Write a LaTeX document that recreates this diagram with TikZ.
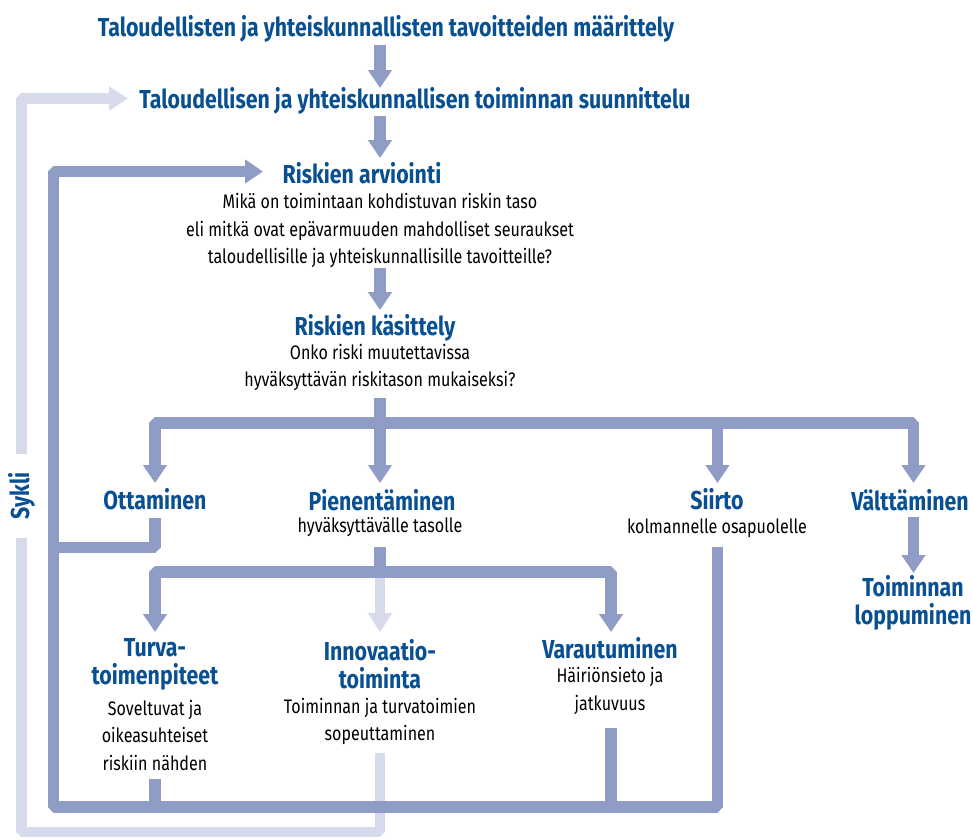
\documentclass[tikz,border=0pt]{standalone}
\usepackage{fontspec}
\setmainfont{Fira Sans}[FakeStretch=0.82]
\usetikzlibrary{arrows.meta}
\definecolor{headblue}{RGB}{8,80,146}
\definecolor{flowc}{RGB}{143,156,198}
\definecolor{cyclec}{RGB}{214,218,234}
\tikzset{
  flowline/.style={draw=flowc, line width=11.5pt, line join=bevel},
  loopline/.style={draw=cyclec, line width=10.5pt, line join=bevel},
  headed/.style={-{Triangle[width=23pt,length=18pt]}},
  twoheaded/.style={{Triangle[width=23pt,length=18pt]}-{Triangle[width=23pt,length=18pt]}},
  lighthead/.style={-{Triangle[width=23pt,length=19pt]}},
  headtxt/.style={text=headblue, font=\fontsize{26}{28}\selectfont\bfseries, align=center, inner sep=0pt},
  bodytxt/.style={text=black, font=\fontsize{19.6}{27.5}\selectfont, align=center, inner sep=0pt},
}
\begin{document}
\begin{tikzpicture}[x=1pt,y=-1pt]
\useasboundingbox (0,0) rectangle (973,839);

% labels
\node[headtxt] (goals) at (386,29) {Taloudellisten ja yhteiskunnallisten tavoitteiden määrittely};
\node[headtxt] (plan) at (415,101) {Taloudellisen ja yhteiskunnallisen toiminnan suunnittelu};
\node[headtxt] (assess) at (362,173) {Riskien arviointi};
\node[bodytxt] (assessq) at (380,230.5) {Mikä on toimintaan kohdistuvan riskin taso\\eli mitkä ovat epävarmuuden mahdolliset seuraukset\\taloudellisille ja yhteiskunnallisille tavoitteille?};
\node[headtxt] (treat) at (375,328) {Riskien käsittely};
\node[bodytxt] (treatq) at (380,367.5) {Onko riski muutettavissa\\hyväksyttävän riskitason mukaiseksi?};
\node[headtxt] (accept) at (155,499) {Ottaminen};
\node[headtxt] (reduce) at (382,500) {Pienentäminen};
\node[bodytxt] (reduceq) at (380,527) {hyväksyttävälle tasolle};
\node[headtxt] (transfer) at (717,499) {Siirto};
\node[bodytxt] (transferq) at (717,528) {kolmannelle osapuolelle};
\node[headtxt] (avoid) at (910,500) {Välttäminen};
\node[headtxt] (stop) at (913,602.5) {Toiminnan\\loppuminen};
\node[headtxt] (safety) at (155,664) {Turva-\\toimenpiteet};
\node[bodytxt] (safetyq) at (155,735) {Soveltuvat ja\\oikeasuhteiset\\riskiin nähden};
\node[headtxt] (innov) at (380,664) {Innovaatio-\\toiminta};
\node[bodytxt] (innovq) at (380,721.5) {Toiminnan ja turvatoimien\\sopeuttaminen};
\node[headtxt] (prep) at (610,648) {Varautuminen};
\node[bodytxt] (prepq) at (610,691) {Häiriönsieto ja\\jatkuvuus};
\node[headtxt, rotate=90, inner xsep=18.5pt] (cyc) at (21.5,496) {Sykli};

% connector end points and bends
\coordinate (a1) at (380,45);   \coordinate (a1t) at (380,88);
\coordinate (a2) at (380,116);  \coordinate (a2t) at (380,158);
\coordinate (a3) at (380,268);  \coordinate (a3t) at (380,310);
\coordinate (stem) at (380,398); \coordinate (stemt) at (380,483);
\coordinate (barL) at (155,423); \coordinate (barR) at (913.5,423);
\coordinate (ottt) at (155,483); \coordinate (valtt) at (913.5,483);
\coordinate (sii) at (717.5,423); \coordinate (siit) at (717.5,483);
\coordinate (va) at (913.5,517); \coordinate (vat) at (913.5,573);
\coordinate (otto) at (155,518); \coordinate (ottc) at (155,547.5); \coordinate (ottj) at (53.5,547.5);
\coordinate (siio) at (717.5,547); \coordinate (siic) at (717.5,807);
\coordinate (loopBL) at (53.5,807); \coordinate (loopTL) at (53.5,171.5); \coordinate (loopt) at (263,171.5);
\coordinate (turo) at (155,779); \coordinate (turj) at (155,807);
\coordinate (varo) at (611,728); \coordinate (varj) at (611,807);
\coordinate (sub) at (380,547); \coordinate (subj) at (380,572);
\coordinate (subL) at (155,572); \coordinate (subR) at (611,572);
\coordinate (turt) at (155,632); \coordinate (vart) at (611,632);
\coordinate (innt) at (380,632);
\coordinate (inno) at (380,753); \coordinate (cycBR) at (380,832);
\coordinate (cycBL) at (21.5,832); \coordinate (cycTL) at (21.5,98.5); \coordinate (cyct) at (128,98.5);

% light cycle line
\draw[loopline,lighthead] (subj) -- (innt);
\draw[loopline] (inno) -- (cycBR) -- (cycBL) -- (cyc.west);
\draw[loopline,lighthead] (cyc.east) -- (cycTL) -- (cyct);

% main flow
\draw[flowline,headed] (a1) -- (a1t);
\draw[flowline,headed] (a2) -- (a2t);
\draw[flowline,headed] (a3) -- (a3t);
\draw[flowline,headed] (stem) -- (stemt);
\draw[flowline,twoheaded] (ottt) -- (barL) -- (barR) -- (valtt);
\draw[flowline,headed] (sii) -- (siit);
\draw[flowline,headed] (va) -- (vat);
\draw[flowline] (otto) -- (ottc) -- (ottj);
\draw[flowline,headed] (siio) -- (siic) -- (loopBL) -- (loopTL) -- (loopt);
\draw[flowline] (turo) -- (turj);
\draw[flowline] (varo) -- (varj);
\draw[flowline] (sub) -- (subj);
\draw[flowline,twoheaded] (turt) -- (subL) -- (subR) -- (vart);
\end{tikzpicture}
\end{document}
